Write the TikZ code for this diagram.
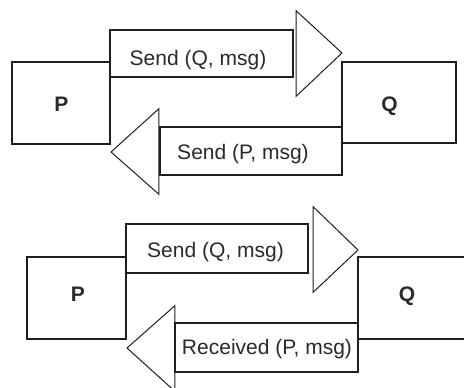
\documentclass[tikz,border=0pt]{standalone}
\usepackage{fontspec}
\setmainfont{Liberation Sans}
\usetikzlibrary{calc}
\pgfdeclarelayer{heads}
\pgfsetlayers{heads,main}
\definecolor{ink}{HTML}{1E1E1E}
\definecolor{txt}{HTML}{2A2A2A}
\tikzset{
  proc/.style={draw=ink, line width=1.6pt, fill=white, inner sep=0pt},
  body/.style={draw=ink, line width=2.4pt, fill=white, inner sep=0pt},
  head/.style={draw=ink, line width=1pt, fill=white, line join=miter},
  lbl/.style={text=txt, inner sep=0pt, anchor=base, font=\fontsize{21}{25}\selectfont},
  plbl/.style={lbl, font=\fontsize{21}{25}\selectfont\bfseries}
}
\begin{document}
\begin{tikzpicture}[x=1pt,y=-1pt]
\clip (0,0) rectangle (464,388);
\begin{pgfonlayer}{heads}
\fill[white] (0,0) rectangle (464,388);
\end{pgfonlayer}
% ---------- top diagram ----------
\node[proc, minimum width=98pt, minimum height=82pt] (P1) at (61,103) {};
\node[proc, line width=2pt, minimum width=114pt, minimum height=81pt] (Q1) at (399,102.5) {};
% arrow P -> Q
\node[body, minimum width=183pt, minimum height=47pt] (S1) at (201.5,53.5) {};
\coordinate (T1tip) at (342,53);
% arrow Q -> P
\node[body, minimum width=182pt, minimum height=48pt] (S2) at (251,151) {};
\coordinate (T2tip) at (111,152);
% ---------- bottom diagram ----------
\node[proc, line width=2pt, minimum width=99pt, minimum height=82pt] (P2) at (76.5,298) {};
\node[proc, line width=2pt, minimum width=122pt, minimum height=82pt] (Q2) at (419,298) {};
\node[body, minimum width=182pt, minimum height=49pt] (S3) at (217,248.5) {};
\coordinate (T3tip) at (358,250);
\node[body, minimum width=183pt, minimum height=49pt] (S4) at (266.5,347.5) {};
\coordinate (T4tip) at (127,348);
% arrow heads (behind the bodies)
\begin{pgfonlayer}{heads}
\draw[head] ($(S1.north east)+(2,-18)$) -- (T1tip) -- ($(S1.south east)+(2,18)$) -- cycle;
\draw[head] ($(S2.north west)+(0,-17)$) -- (T2tip) -- ($(S2.south west)+(0,18)$) -- cycle;
\draw[head] ($(S3.north east)+(4,-16)$) -- (T3tip) -- ($(S3.south east)+(4,18)$) -- cycle;
\draw[head] ($(S4.north west)+(1,-16)$) -- (T4tip) -- ($(S4.south west)+(1,18)$) -- cycle;
\end{pgfonlayer}
% labels
\node[plbl] (lP1) at (61.5,111) {P};
\node[plbl] (lQ1) at (389.5,111) {Q};
\node[lbl] (lS1) at (198,65) {Send (Q, msg)};
\node[lbl] (lS2) at (243,159) {Send (P, msg)};
\node[plbl] (lP2) at (78,301) {P};
\node[plbl] (lQ2) at (407,301) {Q};
\node[lbl] (lS3) at (215.5,257) {Send (Q, msg)};
\node[lbl] (lS4) at (267,354) {Received (P, msg)};
\end{tikzpicture}
\end{document}
